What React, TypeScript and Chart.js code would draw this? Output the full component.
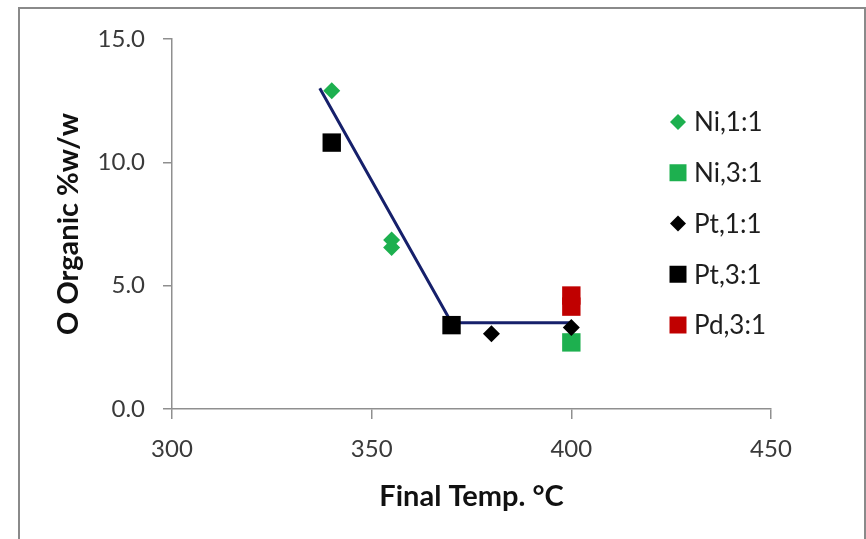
import React, { useEffect, useRef } from "react";
import { Chart, registerables } from "chart.js";

Chart.register(...registerables);

// Measured organic oxygen content vs. final temperature, per catalyst and ratio
const niOneToOne = [
  { x: 340, y: 12.9 },
  { x: 355, y: 6.85 },
  { x: 355, y: 6.55 },
];
const niThreeToOne = [{ x: 400, y: 2.7 }];
const ptOneToOne = [
  { x: 380, y: 3.05 },
  { x: 400, y: 3.3 },
];
const ptThreeToOne = [
  { x: 340, y: 10.8 },
  { x: 370, y: 3.4 },
];
const pdThreeToOne = [
  { x: 400, y: 4.6 },
  { x: 400, y: 4.15 },
];
// Piecewise trend drawn through the data
const trendLine = [
  { x: 337, y: 13.0 },
  { x: 370, y: 3.5 },
  { x: 400, y: 3.5 },
];

const xTicks = [300, 350, 400, 450];
const yTicks = [0, 5, 10, 15];

const GREEN = "#1db04f";
const RED = "#c00000";
const BLACK = "#000000";
const NAVY = "#16206b";
const AXIS = "#8f8f8f";
const FONT = "Lato, 'Open Sans', sans-serif";

type Marker = "rectRot" | "rect";

const legendEntries: { label: string; color: string; style: Marker }[] = [
  { label: "Ni,1:1", color: GREEN, style: "rectRot" },
  { label: "Ni,3:1", color: GREEN, style: "rect" },
  { label: "Pt,1:1", color: BLACK, style: "rectRot" },
  { label: "Pt,3:1", color: BLACK, style: "rect" },
  { label: "Pd,3:1", color: RED, style: "rect" },
];

function drawMarker(ctx: CanvasRenderingContext2D, style: Marker, x: number, y: number, r: number) {
  ctx.beginPath();
  if (style === "rectRot") {
    ctx.moveTo(x - r, y);
    ctx.lineTo(x, y - r);
    ctx.lineTo(x + r, y);
    ctx.lineTo(x, y + r);
    ctx.closePath();
  } else {
    ctx.rect(x - r, y - r, 2 * r, 2 * r);
  }
  ctx.fill();
}

const framePlugin = {
  id: "frame",
  beforeDraw(chart: Chart) {
    const { ctx, width, height } = chart;
    ctx.save();
    ctx.fillStyle = "#ffffff";
    ctx.fillRect(0, 0, width, height);
    ctx.strokeStyle = "#8a8a8a";
    ctx.lineWidth = 2;
    ctx.strokeRect(19, 8, 846, height + 10);
    ctx.restore();
  },
};

const legendPlugin = {
  id: "sideLegend",
  afterDraw(chart: Chart) {
    const { ctx } = chart;
    ctx.save();
    ctx.font = `26px ${FONT}`;
    ctx.textBaseline = "middle";
    ctx.textAlign = "left";
    legendEntries.forEach((e, i) => {
      const y = 122 + i * 50.75;
      ctx.fillStyle = e.color;
      drawMarker(ctx, e.style, 678, y, e.style === "rect" ? 8.5 : 8);
      ctx.fillStyle = "#1e1e1e";
      ctx.fillText(e.label, 694, y + 1);
    });
    ctx.restore();
  },
};

export default function App() {
  const canvasRef = useRef<HTMLCanvasElement | null>(null);

  useEffect(() => {
    if (!canvasRef.current) return;
    const squareR = 13;
    const diamondR = 8.5;
    const chart = new Chart(canvasRef.current, {
      type: "scatter",
      data: {
        datasets: [
          {
            label: "Pt,1:1",
            data: ptOneToOne,
            pointStyle: "rectRot",
            pointRadius: diamondR,
            pointHoverRadius: diamondR,
            backgroundColor: BLACK,
            borderWidth: 0,
            order: 0,
          },
          {
            label: "Pt,3:1",
            data: ptThreeToOne,
            pointStyle: "rect",
            pointRadius: squareR,
            pointHoverRadius: squareR,
            backgroundColor: BLACK,
            borderWidth: 0,
            order: 1,
          },
          {
            label: "Ni,1:1",
            data: niOneToOne,
            pointStyle: "rectRot",
            pointRadius: diamondR,
            pointHoverRadius: diamondR,
            backgroundColor: GREEN,
            borderWidth: 0,
            order: 2,
          },
          {
            label: "Ni,3:1",
            data: niThreeToOne,
            pointStyle: "rect",
            pointRadius: squareR,
            pointHoverRadius: squareR,
            backgroundColor: GREEN,
            borderWidth: 0,
            order: 3,
          },
          {
            label: "Pd,3:1",
            data: pdThreeToOne,
            pointStyle: "rect",
            pointRadius: squareR,
            pointHoverRadius: squareR,
            backgroundColor: RED,
            borderWidth: 0,
            order: 4,
          },
          {
            label: "trend",
            data: trendLine,
            showLine: true,
            borderColor: NAVY,
            borderWidth: 3,
            pointRadius: 0,
            fill: false,
            order: 10,
          } as any,
        ],
      },
      options: {
        responsive: false,
        animation: false,
        events: [],
        layout: { padding: { left: 19, top: 39, right: 95, bottom: 0 } },
        plugins: {
          legend: { display: false },
          tooltip: { enabled: false },
        },
        scales: {
          x: {
            type: "linear",
            min: 300,
            max: 450,
            afterFit: (s: any) => {
              s.height = 130;
            },
            afterBuildTicks: (s: any) => {
              s.ticks = xTicks.map((v) => ({ value: v }));
            },
            grid: {
              drawOnChartArea: false,
              drawTicks: true,
              tickLength: 10,
              color: AXIS,
              lineWidth: 1.5,
            },
            border: { color: AXIS, width: 1.5 },
            ticks: {
              padding: 16,
              color: "#3a3a3a",
              font: { family: FONT, size: 24 },
              callback: (v: any) => String(v),
            },
            title: {
              display: true,
              text: "Final Temp. °C",
              color: "#111111",
              font: { family: FONT, size: 29, weight: "bold" },
              padding: { top: 0, bottom: 25 },
            },
          },
          y: {
            type: "linear",
            min: 0,
            max: 15,
            afterFit: (s: any) => {
              s.width = 153;
            },
            afterBuildTicks: (s: any) => {
              s.ticks = yTicks.map((v) => ({ value: v }));
            },
            grid: {
              drawOnChartArea: false,
              drawTicks: true,
              tickLength: 9,
              color: AXIS,
              lineWidth: 1.5,
            },
            border: { color: AXIS, width: 1.5 },
            ticks: {
              padding: 18,
              color: "#3a3a3a",
              font: { family: FONT, size: 24 },
              callback: (v: any) => Number(v).toFixed(1),
            },
            title: {
              display: true,
              text: "O Organic %w/w",
              color: "#111111",
              font: { family: FONT, size: 29, weight: "bold" },
              padding: { top: 32, bottom: 0 },
            },
          },
        },
      },
      plugins: [framePlugin, legendPlugin],
    });
    return () => chart.destroy();
  }, []);

  return (
    <div style={{ position: "fixed", left: 0, top: 0, width: 866, height: 539 }}>
      <canvas ref={canvasRef} width={866} height={539} />
    </div>
  );
}
